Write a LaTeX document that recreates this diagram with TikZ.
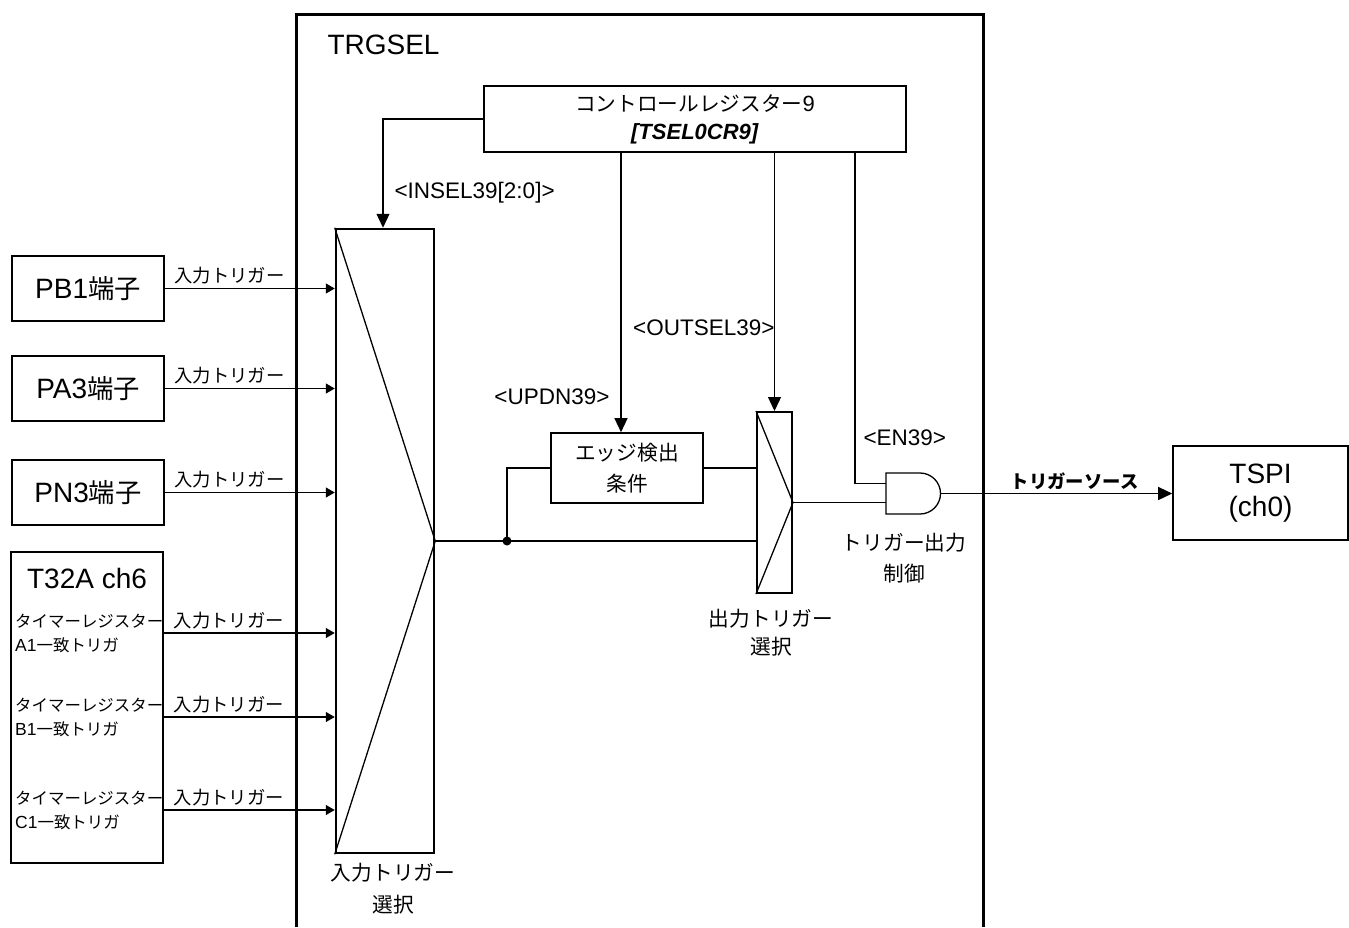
\documentclass[tikz,border=0pt]{standalone}
\usepackage{fontspec}
\setmainfont{Liberation Sans}
\newfontfamily\jp{Noto Sans CJK JP}[Scale=0.94]
\usepackage{tikz}
\usetikzlibrary{arrows.meta, positioning, calc}
\tikzstyle{blk} = [draw, line width=1.6pt, minimum width=152pt, minimum height=65pt, inner sep=2pt, text centered]
\tikzstyle{arrow} = [line width=1.3pt, -{Triangle[length=14pt,width=13pt]}]
\tikzstyle{inarrow} = [line width=1.3pt, -{Triangle[length=9pt,width=10pt]}]
\tikzstyle{wire} = [line width=1.3pt]
\tikzstyle{frame} = [line width=3pt]
\tikzset{%
    big/.style={font=\fontsize{28}{33}\selectfont},
    lbl/.style={font=\fontsize{22.5}{28}\selectfont},
    trg/.style={font=\jp\fontsize{19.5}{24}\selectfont},
    jplbl/.style={font=\jp\fontsize{22}{31}\selectfont, align=center},
    timer/.style={font=\fontsize{17.5}{24}\selectfont, align=left, inner sep=2pt},
    selbox/.style={draw, line width=2.5pt, inner sep=0pt},
}

\begin{document}
\begin{tikzpicture}[x=1pt, y=-1pt]
    \useasboundingbox (0,0) rectangle (1349,927);

    \draw[frame] (296,927) -- (296,14) -- (983,14) -- (983,927);
    \node[big, anchor=west] (trgsel) at (324,45) {TRGSEL};

    \node[blk, minimum width=422, minimum height=66, align=center, font=\fontsize{22}{28}\selectfont] (reg) at (695,119) {{\jp コントロールレジスター}9\\\textbf{\textit{[TSEL0CR9]}}};

    \node[blk, big] (pb1) at (88,288.5) {PB1{\jp 端子}};
    \node[blk, big] (pa3) at (88,388.5) {PA3{\jp 端子}};
    \node[blk, big] (pn3) at (88,492.5) {PN3{\jp 端子}};
    \node[blk, minimum height=311] (t32a) at (87,707.5) {};
    \node[big] (t32ch) at (87,578) {T32A ch6};
    \node[timer, anchor=west] (cmpa) at (13,633) {{\jp タイマーレジスター}\\A1{\jp 一致トリガ}};
    \node[timer, anchor=west] (cmpb) at (13,717) {{\jp タイマーレジスター}\\B1{\jp 一致トリガ}};
    \node[timer, anchor=west] (cmpc) at (13,810) {{\jp タイマーレジスター}\\C1{\jp 一致トリガ}};

    \node[selbox, minimum width=98, minimum height=624] (imux) at (385,541) {};
    \draw[wire] (imux.north west) -- (imux.east) -- (imux.south west);
    \node[jplbl, font=\jp\fontsize{22}{32}\selectfont] (imuxlbl) at (393,889) {入力トリガー\\選択};

    \foreach \src in {pb1, pa3, pn3}
        \draw[inarrow] (\src.east) -- (\src.east -| imux.west) node[trg, pos=0.38, above] {入力トリガー};
    \foreach \src in {cmpa, cmpb, cmpc}
        \draw[inarrow] (\src -| t32a.east) -- (\src -| imux.west) node[trg, pos=0.38, above] {入力トリガー};

    \draw[arrow] (reg.west) -| (imux.north -| 383,0);
    \node[lbl, anchor=west] (insel) at (391,193) {<INSEL39[2:0]>};

    \node[blk, minimum width=152, minimum height=70, jplbl] (edge) at (627,468) {エッジ検出\\条件};
    \node[selbox, line width=2pt, minimum width=35, minimum height=181] (osel) at (774.5,502.5) {};
    \draw[wire] (osel.north west) -- (osel.east) -- (osel.south west);
    \node[jplbl, font=\jp\fontsize{22}{28}\selectfont] (osellbl) at (771,633) {出力トリガー\\選択};

    \coordinate (tap) at (imux.east -| 507,0);
    \draw[wire] (imux.east) -- (imux.east -| osel.west);
    \fill (tap) circle (4.5);
    \draw[wire] (tap) |- (edge.west);
    \draw[wire] (edge.east) -- (edge.east -| osel.west);

    \draw[arrow] (reg.south -| 621,0) -- (edge.north -| 621,0);
    \node[lbl, anchor=east] (updn) at (613,397) {<UPDN39>};
    \draw[arrow] (reg.south -| osel.north) -- (osel.north);
    \node[lbl, anchor=east] (outsel) at (778,328) {<OUTSEL39>};

    \node[minimum width=54, minimum height=41, inner sep=0, outer sep=0] (gate) at (913,493.5) {};
    \draw[wire] (gate.north west) -- ++(34,0) arc[start angle=-90, end angle=90, radius=20.5] -- (gate.south west) -- cycle;
    \draw[wire] (reg.south -| 855,0) |- ($(gate.west)+(0,-10)$);
    \node[lbl, anchor=west] (en) at (860,438) {<EN39>};
    \draw[wire] (osel.east) -- (osel.east -| gate.west);
    \node[jplbl] (gatelbl) at (904,558) {トリガー出力\\制御};

    \node[blk, big, minimum width=175, minimum height=94, align=center] (tspi) at (1260.5,493) {TSPI\\(ch0)};
    \draw[arrow] (gate.east) -- (gate.east -| tspi.west) node[pos=0.58, above, font=\jp\bfseries\fontsize{19.5}{24}\selectfont] {トリガーソース};
\end{tikzpicture}
\end{document}
